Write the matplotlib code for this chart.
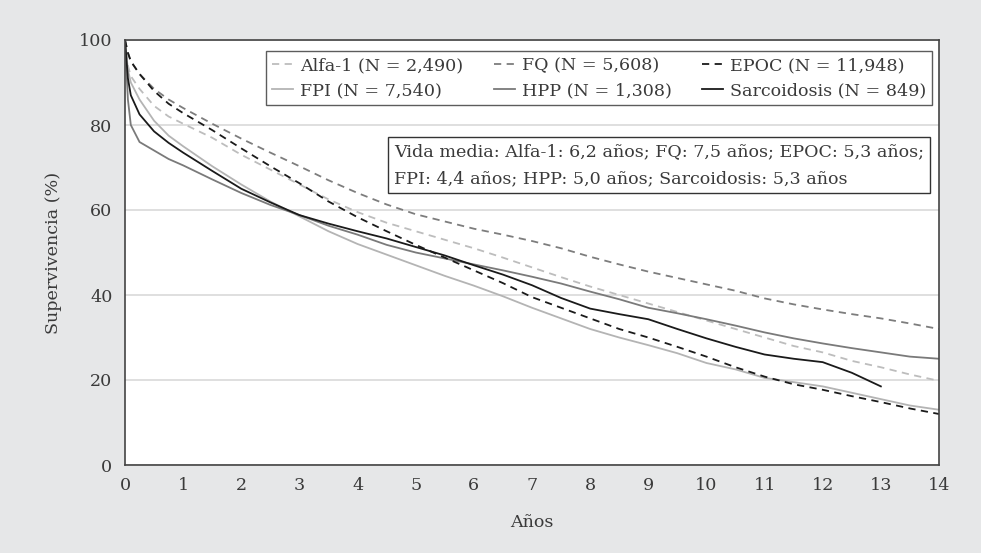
import matplotlib
matplotlib.use("Agg")
import matplotlib.pyplot as plt

# Años de seguimiento
anos = [0, 0.05, 0.1, 0.25, 0.5, 0.75, 1, 1.5, 2, 2.5, 3, 3.5, 4, 4.5, 5, 5.5, 6,
        6.5, 7, 7.5, 8, 8.5, 9, 9.5, 10, 10.5, 11, 11.5, 12, 12.5, 13, 13.5, 14]

# Supervivencia (%) por enfermedad
alfa1 = [100, 94, 91.5, 88.5, 84.5, 82, 80.3, 77, 73, 69.5, 66, 62.5, 59.5, 57, 55,
         53, 51, 48.8, 46.5, 44.2, 42, 40, 38, 36, 34, 32, 30, 28, 26.5, 24.5, 23, 21.3, 19.8]
fq = [100, 97, 95, 92, 88.5, 86, 84, 80.3, 76.8, 73.5, 70.3, 67, 64, 61.3, 59, 57.3,
      55.6, 54.2, 52.7, 51, 49, 47.2, 45.5, 44, 42.5, 41, 39.2, 37.8, 36.6, 35.5, 34.5, 33.3, 32]
epoc = [100, 97, 95, 92, 88, 85, 82.8, 78.8, 74.5, 70.3, 66.3, 62, 58.3, 55, 51.8, 48.8,
        45.8, 42.8, 39.5, 37, 34.5, 32, 30, 27.8, 25.5, 23, 20.8, 19, 17.7, 16.2, 14.8, 13.3, 12]
fpi = [100, 93, 90, 86, 81, 77.5, 75, 70.3, 66, 62, 58.5, 55, 52, 49.5, 47, 44.5, 42.2,
       39.7, 37, 34.5, 32, 30, 28.2, 26.3, 24, 22.5, 20.5, 19.5, 18.5, 17, 15.5, 14, 13]
hpp = [100, 86, 80, 76, 74, 72, 70.5, 67.2, 64, 61.2, 58.8, 56.3, 54.2, 51.8, 50, 48.6,
       47.2, 45.8, 44.3, 42.7, 40.8, 39, 37, 35.7, 34.3, 32.8, 31.2, 29.8, 28.6, 27.5, 26.5, 25.5, 25]
sarc = [100, 91, 87, 82.5, 78.5, 75.8, 73.5, 69.2, 65, 61.8, 58.8, 56.8, 55, 53.3, 51.3,
        49.3, 47, 44.8, 42.3, 39.3, 36.8, 35.5, 34.3, 32, 29.8, 27.8, 26, 25, 24.2, 21.7, 18.5]

series = [
    ("Alfa-1 (N = 2,490)", alfa1, "#bdbdbd", (0, (4, 3))),
    ("FPI (N = 7,540)", fpi, "#b4b4b4", "-"),
    ("FQ (N = 5,608)", fq, "#7d7d7d", (0, (4, 3))),
    ("HPP (N = 1,308)", hpp, "#7a7a7a", "-"),
    ("EPOC (N = 11,948)", epoc, "#1a1a1a", (0, (4, 3))),
    ("Sarcoidosis (N = 849)", sarc, "#1a1a1a", "-"),
]

plt.rcParams["font.family"] = ["DejaVu Serif"]
texto = "#3a3a3a"
fs = 12.6

fig = plt.figure(figsize=(9.81, 5.53), dpi=100)
fig.patch.set_facecolor("#e6e7e8")
ax = fig.add_axes([125 / 981, 88 / 553, 814 / 981, 425 / 553])
ax.set_facecolor("white")

for nombre, valores, color, estilo in series:
    ax.plot(anos[:len(valores)], valores, color=color, linestyle=estilo, lw=1.3, label=nombre)

ax.set_xlim(0, 14)
ax.set_ylim(0, 100)
ax.set_xticks(range(0, 15))
ax.set_yticks(range(0, 101, 20))
ax.yaxis.grid(True, color="#d9d9d9", lw=1.2)
ax.set_axisbelow(True)
ax.tick_params(length=0, labelsize=fs, colors=texto, pad=9)
for s in ax.spines.values():
    s.set_color("#444444")
    s.set_linewidth(1.2)

ax.set_xlabel("Años", fontsize=fs, color=texto, labelpad=14)
ax.set_ylabel("Supervivencia (%)", fontsize=fs, color=texto, labelpad=12)

leg = ax.legend(ncol=3, loc="upper right", bbox_to_anchor=(0.992, 0.974),
                borderaxespad=0, fontsize=fs, frameon=True, fancybox=False,
                handlelength=1.2, handletextpad=0.4, columnspacing=1.75,
                labelspacing=0.45, borderpad=0.35, labelcolor=texto)
leg.get_frame().set_edgecolor("#333333")
leg.get_frame().set_linewidth(1.0)

ax.text(0.3305, 0.757,
        "Vida media: Alfa-1: 6,2 años; FQ: 7,5 años; EPOC: 5,3 años;\n"
        "FPI: 4,4 años; HPP: 5,0 años; Sarcoidosis: 5,3 años",
        transform=ax.transAxes, fontsize=fs, color=texto, va="top", ha="left",
        linespacing=1.75,
        bbox=dict(boxstyle="square,pad=0.35", fc="white", ec="#333333", lw=1.0))

fig.savefig("out.png", dpi=100, facecolor=fig.get_facecolor())
